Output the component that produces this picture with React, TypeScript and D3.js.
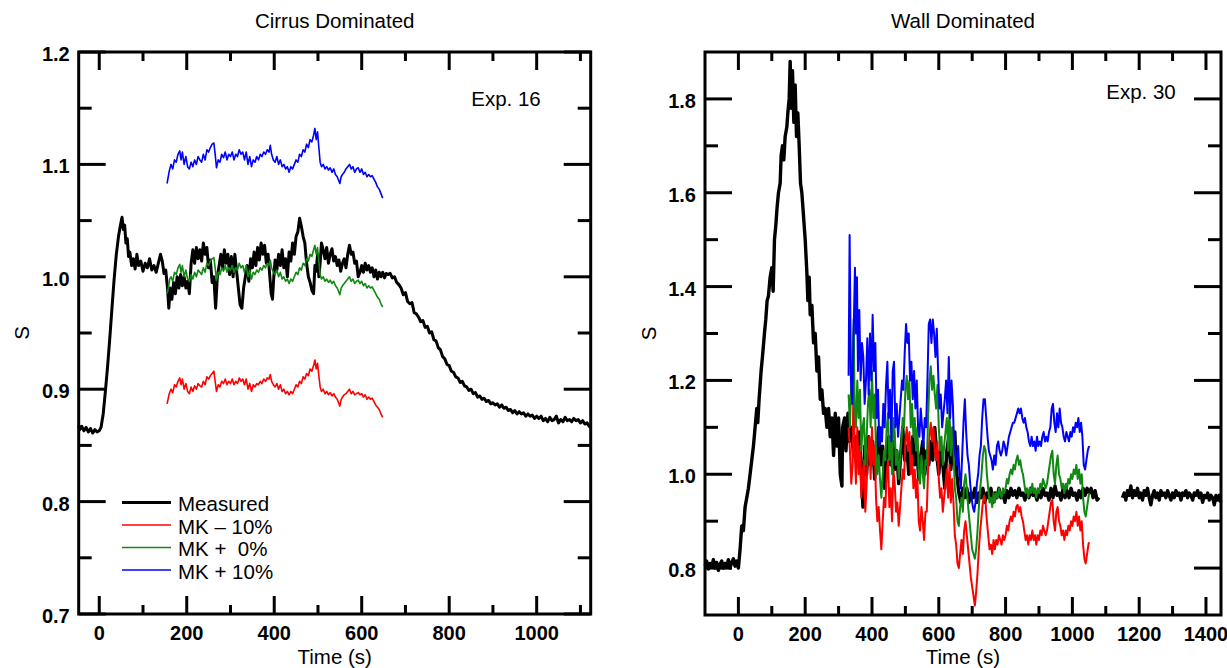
import React, { useEffect } from 'react';
import * as d3 from 'd3';

type Pt = [number, number];

// ---------------- Cirrus Dominated (Exp. 16) ----------------
const cirrusMeasured: Pt[] = [
  [-47, 0.868], [-45, 0.864], [-40, 0.867], [-35, 0.863], [-30, 0.866], [-25, 0.862], [-20, 0.865], [-15, 0.861], [-10, 0.864], [-5, 0.862], [0, 0.863],
  [4, 0.866], [9, 0.878], [14, 0.898], [19, 0.92], [24, 0.945], [29, 0.972], [34, 0.998], [39, 1.02], [44, 1.036], [48, 1.045], [52, 1.053], [55, 1.042],
  [58, 1.046], [61, 1.03], [64, 1.034], [67, 1.018], [70, 1.022], [74, 1.01], [78, 1.016], [82, 1.007], [86, 1.02], [90, 1.01], [95, 1.014], [100, 1.005],
  [105, 1.012], [110, 1.008], [115, 1.016], [120, 1.006], [125, 1.01], [130, 1.004], [135, 1.012], [140, 1.02], [144, 1.014], [148, 1.003], [152, 1.006],
  [156, 0.99], [159, 0.972], [162, 0.99], [166, 0.98], [170, 0.995], [174, 0.985], [178, 1.0], [182, 0.99], [186, 1.002], [190, 0.992], [194, 1.0],
  [198, 0.99], [202, 0.996], [206, 0.985], [210, 1.012], [214, 1.024], [218, 1.012], [222, 1.026], [226, 1.016], [230, 1.024], [234, 1.014], [238, 1.03],
  [242, 1.02], [246, 1.026], [250, 1.008], [254, 1.015], [258, 0.995], [262, 1.0], [266, 0.972], [270, 1.0], [274, 1.01], [278, 1.02], [282, 1.008],
  [286, 1.024], [290, 1.012], [294, 1.02], [298, 1.002], [302, 1.018], [306, 1.0], [310, 1.02], [314, 1.005], [318, 0.99], [322, 0.975], [326, 0.972],
  [330, 0.99], [334, 1.0], [338, 1.01], [342, 0.996], [346, 1.016], [350, 1.008], [354, 1.022], [358, 1.01], [362, 1.026], [366, 1.015], [370, 1.03],
  [374, 1.02], [378, 1.028], [382, 1.012], [386, 1.02], [390, 1.0], [393, 0.985], [396, 0.98], [399, 1.0], [402, 1.015], [406, 1.006], [410, 1.02],
  [414, 1.01], [418, 1.024], [422, 1.008], [426, 1.016], [430, 1.0], [434, 1.022], [438, 1.014], [442, 1.03], [446, 1.02], [450, 1.036], [454, 1.04],
  [458, 1.052], [462, 1.045], [466, 1.036], [470, 1.03], [474, 1.012], [478, 1.0], [482, 0.995], [486, 0.988], [490, 0.985], [493, 1.01], [496, 1.005],
  [499, 1.02], [502, 1.0], [505, 1.012], [508, 1.03], [512, 1.024], [516, 1.016], [520, 1.026], [524, 1.012], [528, 1.02], [532, 1.025], [536, 1.014],
  [540, 1.018], [544, 1.01], [548, 1.015], [552, 1.005], [556, 1.012], [560, 1.016], [564, 1.008], [568, 1.02], [572, 1.028], [576, 1.02], [580, 1.022],
  [584, 1.012], [588, 1.014], [592, 1.0], [596, 1.004], [600, 1.01], [604, 1.004], [608, 1.012], [612, 1.006], [616, 1.01], [620, 1.004], [624, 1.008],
  [628, 1.0], [632, 1.006], [636, 0.998], [640, 1.004], [644, 1.0], [648, 1.004], [652, 0.999], [656, 1.003], [660, 1.002], [665, 1.003], [670, 0.999],
  [675, 1.0], [680, 0.995], [685, 0.993], [690, 0.99], [695, 0.984], [700, 0.986], [705, 0.978], [710, 0.976], [715, 0.977], [720, 0.968], [725, 0.967],
  [730, 0.964], [735, 0.96], [740, 0.961], [745, 0.955], [750, 0.956], [755, 0.95], [760, 0.951], [765, 0.944], [770, 0.943], [775, 0.937], [780, 0.935],
  [785, 0.929], [790, 0.927], [795, 0.922], [800, 0.921], [805, 0.916], [810, 0.915], [815, 0.911], [820, 0.91], [825, 0.906], [830, 0.907], [835, 0.903],
  [840, 0.902], [845, 0.899], [850, 0.9], [855, 0.896], [860, 0.897], [865, 0.893], [870, 0.894], [875, 0.891], [880, 0.892], [885, 0.889], [890, 0.89],
  [895, 0.887], [900, 0.888], [905, 0.886], [910, 0.887], [915, 0.884], [920, 0.886], [925, 0.883], [930, 0.884], [935, 0.881], [940, 0.882], [945, 0.879],
  [950, 0.881], [955, 0.878], [960, 0.88], [965, 0.878], [970, 0.879], [975, 0.876], [980, 0.878], [985, 0.876], [990, 0.877], [995, 0.874], [1000, 0.876],
  [1005, 0.874], [1010, 0.876], [1015, 0.872], [1020, 0.874], [1025, 0.871], [1030, 0.875], [1035, 0.872], [1040, 0.873], [1045, 0.876], [1050, 0.87],
  [1055, 0.873], [1060, 0.871], [1065, 0.875], [1070, 0.872], [1075, 0.873], [1080, 0.871], [1085, 0.874], [1090, 0.872], [1095, 0.873], [1100, 0.87],
  [1105, 0.872], [1110, 0.869], [1115, 0.87], [1120, 0.867], [1123, 0.866],
];

const cirrusMK0: Pt[] = [
  [155, 0.985], [158, 0.99], [161, 0.998], [164, 1.0], [168, 0.996], [172, 1.004], [176, 1.002], [180, 1.008], [184, 1.011], [187, 1.004], [190, 1.01],
  [194, 1.0], [198, 1.006], [202, 0.998], [206, 0.996], [210, 1.002], [214, 0.998], [218, 1.004], [222, 1.0], [226, 1.006], [230, 1.004], [234, 1.002],
  [238, 1.008], [242, 1.004], [246, 1.012], [250, 1.01], [254, 1.014], [258, 1.016], [262, 1.017], [265, 1.008], [268, 0.997], [272, 1.004], [276, 1.002],
  [280, 1.008], [284, 1.005], [288, 1.01], [292, 1.004], [296, 1.008], [300, 1.006], [304, 1.01], [308, 1.004], [312, 1.008], [316, 1.006], [320, 1.012],
  [324, 1.008], [328, 1.01], [332, 1.004], [336, 1.01], [340, 1.0], [344, 1.006], [348, 0.998], [352, 1.004], [356, 1.002], [360, 1.006], [364, 1.004],
  [368, 1.008], [372, 1.006], [376, 1.01], [380, 1.008], [384, 1.012], [388, 1.01], [391, 1.015], [394, 1.008], [398, 1.004], [402, 1.002], [406, 1.006],
  [410, 1.0], [414, 1.004], [418, 0.998], [422, 1.0], [426, 0.996], [430, 0.998], [434, 0.994], [438, 0.998], [442, 0.996], [446, 1.0], [450, 1.004],
  [454, 1.002], [458, 1.008], [462, 1.006], [466, 1.012], [470, 1.01], [474, 1.016], [478, 1.014], [482, 1.02], [486, 1.018], [490, 1.024], [493, 1.028],
  [496, 1.02], [499, 1.026], [502, 1.014], [505, 1.002], [508, 0.998], [512, 1.0], [516, 0.996], [520, 0.998], [524, 0.995], [528, 0.997], [532, 0.994],
  [536, 0.996], [540, 0.992], [544, 0.99], [548, 0.986], [550, 0.984], [553, 0.99], [556, 0.992], [560, 0.994], [564, 0.996], [568, 0.998], [572, 1.0],
  [576, 0.996], [580, 0.998], [584, 0.994], [588, 0.996], [592, 0.997], [596, 0.994], [600, 0.996], [604, 0.992], [608, 0.994], [612, 0.99], [616, 0.992],
  [620, 0.99], [624, 0.991], [628, 0.988], [632, 0.985], [636, 0.982], [640, 0.98], [644, 0.976], [648, 0.973],
];

const cirrusMKminus10: Pt[] = [
  [155, 0.887], [160, 0.896], [164, 0.9], [168, 0.897], [172, 0.904], [176, 0.902], [180, 0.907], [184, 0.91], [187, 0.904], [190, 0.909], [194, 0.9],
  [198, 0.905], [202, 0.898], [206, 0.896], [210, 0.902], [214, 0.898], [218, 0.903], [222, 0.9], [226, 0.905], [230, 0.903], [234, 0.902], [238, 0.907],
  [242, 0.904], [246, 0.911], [250, 0.909], [254, 0.912], [258, 0.914], [262, 0.916], [265, 0.907], [268, 0.898], [272, 0.904], [276, 0.902], [280, 0.907],
  [284, 0.905], [288, 0.909], [292, 0.904], [296, 0.907], [300, 0.905], [304, 0.909], [308, 0.904], [312, 0.907], [316, 0.905], [320, 0.91], [324, 0.907],
  [328, 0.909], [332, 0.904], [336, 0.909], [340, 0.9], [344, 0.905], [348, 0.898], [352, 0.904], [356, 0.902], [360, 0.905], [364, 0.904], [368, 0.907],
  [372, 0.905], [376, 0.909], [380, 0.907], [384, 0.91], [388, 0.909], [391, 0.913], [394, 0.907], [398, 0.904], [402, 0.902], [406, 0.905], [410, 0.9],
  [414, 0.904], [418, 0.898], [422, 0.9], [426, 0.896], [430, 0.898], [434, 0.895], [438, 0.898], [442, 0.896], [446, 0.9], [450, 0.904], [454, 0.902],
  [458, 0.907], [462, 0.905], [466, 0.911], [470, 0.909], [474, 0.914], [478, 0.912], [482, 0.918], [486, 0.916], [490, 0.921], [493, 0.926], [496, 0.918],
  [499, 0.923], [502, 0.912], [505, 0.902], [508, 0.898], [512, 0.9], [516, 0.896], [520, 0.898], [524, 0.895], [528, 0.897], [532, 0.894], [536, 0.896],
  [540, 0.893], [544, 0.891], [548, 0.887], [550, 0.885], [553, 0.891], [556, 0.893], [560, 0.895], [564, 0.896], [568, 0.898], [572, 0.9], [576, 0.896],
  [580, 0.898], [584, 0.895], [588, 0.896], [592, 0.897], [596, 0.895], [600, 0.896], [604, 0.893], [608, 0.895], [612, 0.891], [616, 0.893], [620, 0.891],
  [624, 0.892], [628, 0.889], [632, 0.886], [636, 0.884], [640, 0.882], [644, 0.878], [648, 0.875],
];

const cirrusMKplus10: Pt[] = [
  [155, 1.083], [160, 1.094], [164, 1.1], [168, 1.096], [172, 1.104], [176, 1.102], [180, 1.109], [184, 1.112], [187, 1.104], [190, 1.111], [194, 1.1],
  [198, 1.107], [202, 1.098], [206, 1.096], [210, 1.102], [214, 1.098], [218, 1.104], [222, 1.1], [226, 1.107], [230, 1.104], [234, 1.102], [238, 1.109],
  [242, 1.104], [246, 1.113], [250, 1.111], [254, 1.115], [258, 1.118], [262, 1.119], [265, 1.109], [268, 1.097], [272, 1.104], [276, 1.102], [280, 1.109],
  [284, 1.106], [288, 1.111], [292, 1.104], [296, 1.109], [300, 1.107], [304, 1.111], [308, 1.104], [312, 1.109], [316, 1.107], [320, 1.113], [324, 1.109],
  [328, 1.111], [332, 1.104], [336, 1.111], [340, 1.1], [344, 1.107], [348, 1.098], [352, 1.104], [356, 1.102], [360, 1.107], [364, 1.104], [368, 1.109],
  [372, 1.107], [376, 1.111], [380, 1.109], [384, 1.113], [388, 1.111], [391, 1.117], [394, 1.109], [398, 1.104], [402, 1.102], [406, 1.107], [410, 1.1],
  [414, 1.104], [418, 1.098], [422, 1.1], [426, 1.096], [430, 1.098], [434, 1.093], [438, 1.098], [442, 1.096], [446, 1.1], [450, 1.104], [454, 1.102],
  [458, 1.109], [462, 1.107], [466, 1.113], [470, 1.111], [474, 1.118], [478, 1.115], [482, 1.122], [486, 1.12], [490, 1.126], [493, 1.132], [496, 1.122],
  [499, 1.129], [502, 1.115], [505, 1.102], [508, 1.098], [512, 1.1], [516, 1.096], [520, 1.098], [524, 1.095], [528, 1.097], [532, 1.093], [536, 1.096],
  [540, 1.091], [544, 1.089], [548, 1.085], [550, 1.083], [553, 1.089], [556, 1.091], [560, 1.093], [564, 1.096], [568, 1.098], [572, 1.1], [576, 1.096],
  [580, 1.098], [584, 1.093], [588, 1.096], [592, 1.097], [596, 1.093], [600, 1.096], [604, 1.091], [608, 1.093], [612, 1.089], [616, 1.091], [620, 1.089],
  [624, 1.09], [628, 1.087], [632, 1.084], [636, 1.08], [640, 1.078], [644, 1.074], [648, 1.07],
];

// ---------------- Wall Dominated (Exp. 30) ----------------
const wallMeasuredA: Pt[] = [
  [-100, 0.805], [-95, 0.815], [-90, 0.798], [-85, 0.81], [-80, 0.802], [-75, 0.818], [-70, 0.8], [-65, 0.812], [-60, 0.795], [-55, 0.808], [-50, 0.815],
  [-45, 0.8], [-40, 0.81], [-35, 0.805], [-30, 0.818], [-25, 0.8], [-20, 0.812], [-15, 0.82], [-10, 0.804], [-5, 0.815], [0, 0.8], [5, 0.84], [10, 0.89],
  [15, 0.88], [20, 0.93], [25, 0.95], [30, 0.97], [35, 1.0], [40, 1.03], [45, 1.06], [50, 1.1], [55, 1.14], [58, 1.11], [62, 1.16], [68, 1.22], [72, 1.25],
  [78, 1.3], [82, 1.33], [86, 1.37], [90, 1.38], [95, 1.42], [100, 1.44], [104, 1.39], [108, 1.5], [112, 1.53], [116, 1.57], [120, 1.6], [125, 1.62],
  [128, 1.68], [132, 1.7], [136, 1.67], [140, 1.72], [145, 1.74], [148, 1.77], [152, 1.8], [155, 1.88], [158, 1.78], [162, 1.86], [166, 1.75], [170, 1.83],
  [174, 1.72], [178, 1.77], [182, 1.7], [186, 1.62], [190, 1.6], [195, 1.55], [200, 1.5], [205, 1.43], [208, 1.37], [212, 1.42], [215, 1.34], [220, 1.36],
  [225, 1.28], [230, 1.3], [235, 1.22], [240, 1.25], [245, 1.16], [250, 1.18], [255, 1.13], [260, 1.14], [265, 1.1], [270, 1.14], [275, 1.08], [280, 1.12],
  [285, 1.04], [290, 1.13], [295, 1.06], [300, 1.12], [305, 1.0], [310, 0.975], [312, 1.1], [318, 1.12], [322, 1.05], [328, 1.13], [332, 1.07], [338, 1.1],
  [345, 1.04], [350, 1.08], [356, 1.02], [362, 1.09], [368, 1.0], [373, 0.93], [378, 1.06], [384, 1.0], [390, 1.08], [396, 1.02], [402, 1.07], [408, 0.99],
  [414, 1.05], [420, 1.1], [426, 1.02], [432, 1.06], [438, 0.97], [444, 1.04], [450, 1.08], [456, 1.02], [462, 1.07], [468, 1.01], [474, 1.05], [480, 0.98],
  [486, 1.04], [492, 1.1], [498, 1.03], [504, 1.06], [510, 1.0], [516, 1.05], [522, 1.08], [528, 1.02], [534, 1.06], [540, 0.99], [546, 1.04], [552, 1.07],
  [558, 1.0], [564, 1.05], [570, 1.02], [576, 1.07], [582, 1.03], [588, 1.1], [594, 1.04], [600, 1.0], [606, 1.06], [612, 1.02], [618, 0.97], [624, 1.05],
  [630, 1.08], [636, 1.01], [642, 1.06], [648, 1.09], [654, 1.0], [660, 0.96], [666, 0.94], [672, 0.97], [678, 0.95], [684, 0.97], [690, 0.94], [696, 0.96],
  [702, 0.95], [708, 0.97], [714, 0.94], [720, 0.96], [726, 0.95], [732, 0.97], [738, 0.94], [744, 0.96], [750, 0.95], [756, 0.97], [762, 0.94], [768, 0.96],
  [774, 0.95], [780, 0.97], [786, 0.95], [792, 0.96], [798, 0.94], [804, 0.965], [810, 0.95], [816, 0.97], [822, 0.955], [828, 0.965], [834, 0.95],
  [840, 0.97], [846, 0.955], [852, 0.96], [858, 0.945], [864, 0.965], [870, 0.95], [876, 0.97], [882, 0.955], [888, 0.96], [894, 0.945], [900, 0.965],
  [906, 0.95], [912, 0.97], [918, 0.955], [924, 0.96], [930, 0.945], [936, 0.97], [942, 0.95], [948, 0.975], [954, 0.955], [960, 0.96], [966, 0.945],
  [972, 0.97], [978, 0.95], [984, 0.965], [990, 0.95], [996, 0.97], [1002, 0.955], [1008, 0.96], [1014, 0.945], [1020, 0.965], [1026, 0.95], [1032, 0.97],
  [1038, 0.955], [1044, 0.97], [1050, 0.96], [1056, 0.97], [1062, 0.95], [1068, 0.965], [1074, 0.945], [1080, 0.95],
];

const wallMeasuredB: Pt[] = [
  [1150, 0.95], [1155, 0.96], [1160, 0.945], [1165, 0.965], [1170, 0.955], [1175, 0.975], [1180, 0.95], [1185, 0.965], [1190, 0.955], [1195, 0.97],
  [1200, 0.95], [1205, 0.96], [1210, 0.945], [1215, 0.965], [1220, 0.955], [1225, 0.97], [1230, 0.95], [1235, 0.935], [1240, 0.955], [1245, 0.965],
  [1250, 0.95], [1255, 0.96], [1260, 0.945], [1265, 0.965], [1270, 0.955], [1275, 0.96], [1280, 0.95], [1285, 0.965], [1290, 0.955], [1295, 0.945],
  [1300, 0.96], [1305, 0.95], [1310, 0.965], [1315, 0.955], [1320, 0.96], [1325, 0.945], [1330, 0.96], [1335, 0.955], [1340, 0.965], [1345, 0.95],
  [1350, 0.96], [1355, 0.955], [1360, 0.945], [1365, 0.96], [1370, 0.955], [1375, 0.965], [1380, 0.95], [1385, 0.96], [1390, 0.94], [1395, 0.955],
  [1400, 0.95], [1405, 0.96], [1410, 0.945], [1415, 0.955], [1420, 0.95], [1425, 0.935], [1430, 0.955], [1435, 0.945], [1440, 0.955], [1444, 0.94],
];

const wallMKplus10: Pt[] = [
  [330, 1.21], [333, 1.51], [337, 1.2], [341, 1.15], [345, 1.3], [349, 1.44], [352, 1.3], [355, 1.42], [358, 1.22], [362, 1.35], [366, 1.2], [370, 1.28],
  [374, 1.25], [378, 1.15], [382, 1.2], [386, 1.29], [390, 1.17], [394, 1.3], [398, 1.2], [402, 1.34], [406, 1.22], [410, 1.28], [414, 1.12], [418, 1.18],
  [422, 1.06], [426, 1.1], [430, 1.07], [434, 1.15], [438, 1.1], [442, 1.19], [446, 1.24], [450, 1.12], [454, 1.18], [458, 1.07], [462, 1.22], [466, 1.24],
  [470, 1.1], [474, 1.15], [478, 1.08], [482, 1.12], [486, 1.16], [490, 1.2], [494, 1.18], [498, 1.26], [502, 1.32], [506, 1.28], [510, 1.3], [514, 1.2],
  [518, 1.24], [522, 1.16], [526, 1.22], [530, 1.14], [534, 1.2], [538, 1.1], [542, 1.08], [546, 1.14], [550, 1.1], [554, 1.06], [558, 1.12], [562, 1.1],
  [566, 1.2], [570, 1.32], [574, 1.33], [578, 1.28], [582, 1.33], [586, 1.3], [590, 1.25], [594, 1.31], [598, 1.22], [602, 1.14], [606, 1.17], [610, 1.1],
  [614, 1.13], [618, 1.16], [622, 1.2], [626, 1.13], [630, 1.25], [634, 1.12], [638, 1.2], [642, 1.15], [646, 1.06], [650, 1.04], [654, 1.02], [658, 1.06],
  [662, 1.0], [666, 0.97], [670, 1.04], [674, 1.11], [678, 1.16], [682, 1.09], [686, 1.04], [690, 1.02], [694, 0.98], [698, 0.95], [702, 0.93], [706, 0.92],
  [710, 0.94], [714, 0.98], [718, 1.0], [722, 1.04], [726, 1.06], [730, 1.12], [734, 1.16], [738, 1.16], [742, 1.12], [746, 1.08], [750, 1.05], [754, 1.04],
  [758, 1.03], [762, 1.01], [766, 1.04], [770, 1.02], [774, 1.06], [778, 1.07], [782, 1.05], [786, 1.04], [790, 1.05], [794, 1.07], [798, 1.06], [802, 1.04],
  [806, 1.06], [810, 1.08], [814, 1.09], [818, 1.1], [822, 1.11], [826, 1.11], [830, 1.12], [834, 1.13], [838, 1.14], [842, 1.13], [846, 1.14], [850, 1.12],
  [854, 1.11], [858, 1.12], [862, 1.1], [866, 1.09], [870, 1.07], [874, 1.06], [878, 1.08], [882, 1.06], [886, 1.07], [890, 1.05], [894, 1.08], [898, 1.06],
  [902, 1.07], [906, 1.06], [910, 1.08], [914, 1.09], [918, 1.07], [922, 1.08], [926, 1.07], [930, 1.09], [934, 1.1], [938, 1.14], [942, 1.15], [946, 1.11],
  [950, 1.09], [954, 1.13], [958, 1.1], [962, 1.14], [966, 1.11], [970, 1.1], [974, 1.08], [978, 1.07], [982, 1.09], [986, 1.08], [990, 1.07], [994, 1.09],
  [998, 1.08], [1002, 1.1], [1006, 1.09], [1010, 1.11], [1014, 1.1], [1018, 1.12], [1022, 1.09], [1026, 1.11], [1030, 1.08], [1034, 1.02], [1038, 1.01],
  [1042, 1.03], [1046, 1.05], [1050, 1.06],
];

const wallMK0: Pt[] = [
  [330, 1.17], [334, 1.1], [338, 1.2], [342, 1.25], [345, 1.33], [348, 1.15], [352, 1.1], [356, 1.2], [360, 1.12], [364, 1.18], [368, 1.05], [372, 1.1],
  [376, 1.12], [380, 1.02], [384, 1.08], [388, 1.15], [392, 1.18], [396, 1.1], [400, 1.22], [404, 1.12], [408, 1.17], [412, 1.05], [416, 1.0], [420, 1.04],
  [424, 0.99], [428, 0.95], [432, 1.0], [436, 1.05], [440, 1.03], [444, 1.1], [448, 1.13], [452, 1.03], [456, 1.08], [460, 1.0], [464, 1.12], [468, 1.09],
  [472, 1.02], [476, 1.05], [480, 0.99], [484, 1.03], [488, 1.07], [492, 1.12], [496, 1.1], [500, 1.18], [504, 1.21], [508, 1.16], [512, 1.2], [516, 1.1],
  [520, 1.15], [524, 1.08], [528, 1.12], [532, 1.05], [536, 1.1], [540, 1.0], [544, 0.98], [548, 1.04], [552, 1.0], [556, 0.97], [560, 1.03], [564, 1.02],
  [568, 1.12], [572, 1.2], [576, 1.23], [580, 1.18], [584, 1.21], [588, 1.17], [592, 1.14], [596, 1.19], [600, 1.1], [604, 1.05], [608, 1.08], [612, 1.02],
  [616, 1.06], [620, 1.09], [624, 1.12], [628, 1.05], [632, 1.14], [636, 1.04], [640, 1.1], [644, 1.05], [648, 0.97], [652, 0.95], [656, 0.9], [660, 0.89],
  [664, 0.93], [668, 0.95], [672, 0.92], [676, 0.98], [680, 1.0], [684, 0.97], [688, 0.93], [692, 0.9], [696, 0.87], [700, 0.84], [704, 0.83], [708, 0.82],
  [712, 0.84], [716, 0.88], [720, 0.93], [724, 0.97], [728, 1.0], [732, 1.04], [736, 1.06], [740, 1.05], [744, 1.0], [748, 0.97], [752, 0.94], [756, 0.95],
  [760, 0.93], [764, 0.96], [768, 0.94], [772, 0.96], [776, 0.95], [780, 0.97], [784, 0.96], [788, 0.95], [792, 0.97], [796, 0.96], [800, 0.97], [804, 0.99],
  [808, 0.98], [812, 1.0], [816, 1.01], [820, 1.0], [824, 1.02], [828, 1.01], [832, 1.03], [836, 1.04], [840, 1.02], [844, 1.03], [848, 1.01], [852, 1.0],
  [856, 0.98], [860, 0.96], [864, 0.97], [868, 0.95], [872, 0.97], [876, 0.96], [880, 0.98], [884, 0.96], [888, 0.97], [892, 0.95], [896, 0.97], [900, 0.96],
  [904, 0.98], [908, 0.97], [912, 0.99], [916, 0.98], [920, 0.97], [924, 0.98], [928, 1.0], [932, 1.02], [936, 1.04], [940, 1.05], [944, 1.0], [948, 0.98],
  [952, 1.02], [956, 1.04], [960, 1.0], [964, 0.99], [968, 0.97], [972, 0.98], [976, 0.96], [980, 0.98], [984, 0.97], [988, 0.99], [992, 0.98], [996, 1.0],
  [1000, 0.99], [1004, 1.01], [1008, 1.0], [1012, 1.02], [1016, 0.99], [1020, 1.01], [1024, 0.98], [1028, 1.0], [1032, 0.95], [1036, 0.92], [1040, 0.91],
  [1044, 0.93], [1048, 0.95], [1050, 0.96],
];

const wallMKminus10: Pt[] = [
  [330, 1.1], [334, 1.05], [338, 0.98], [342, 1.02], [345, 1.24], [348, 1.05], [352, 0.98], [356, 1.1], [360, 1.0], [364, 1.06], [368, 0.95], [372, 1.0],
  [376, 1.03], [380, 0.92], [384, 0.98], [388, 1.05], [392, 1.08], [396, 0.99], [400, 1.1], [404, 1.02], [408, 1.06], [412, 0.95], [416, 0.9], [420, 0.93],
  [424, 0.88], [428, 0.84], [432, 0.9], [436, 0.95], [440, 0.93], [444, 1.0], [448, 1.03], [452, 0.93], [456, 0.97], [460, 0.9], [464, 1.01], [468, 0.98],
  [472, 0.92], [476, 0.94], [480, 0.89], [484, 0.93], [488, 0.97], [492, 1.01], [496, 0.99], [500, 1.07], [504, 1.1], [508, 1.05], [512, 1.09], [516, 1.0],
  [520, 1.04], [524, 0.97], [528, 1.01], [532, 0.95], [536, 0.99], [540, 0.9], [544, 0.88], [548, 0.93], [552, 0.9], [556, 0.86], [560, 0.92], [564, 0.92],
  [568, 1.01], [572, 1.08], [576, 1.11], [580, 1.07], [584, 1.1], [588, 1.05], [592, 1.03], [596, 1.07], [600, 0.99], [604, 0.95], [608, 0.97], [612, 0.92],
  [616, 0.95], [620, 0.98], [624, 1.01], [628, 0.95], [632, 1.02], [636, 0.94], [640, 0.99], [644, 0.94], [648, 0.87], [652, 0.85], [656, 0.81], [660, 0.8],
  [664, 0.83], [668, 0.86], [672, 0.83], [676, 0.88], [680, 0.9], [684, 0.87], [688, 0.84], [692, 0.81], [696, 0.78], [700, 0.76], [704, 0.74], [708, 0.72],
  [712, 0.75], [716, 0.79], [720, 0.84], [724, 0.88], [728, 0.91], [732, 0.94], [736, 0.955], [740, 0.94], [744, 0.9], [748, 0.87], [752, 0.84], [756, 0.85],
  [760, 0.83], [764, 0.86], [768, 0.84], [772, 0.86], [776, 0.85], [780, 0.87], [784, 0.86], [788, 0.85], [792, 0.87], [796, 0.86], [800, 0.87], [804, 0.89],
  [808, 0.88], [812, 0.9], [816, 0.91], [820, 0.9], [824, 0.92], [828, 0.91], [832, 0.93], [836, 0.935], [840, 0.92], [844, 0.93], [848, 0.91], [852, 0.9],
  [856, 0.88], [860, 0.86], [864, 0.87], [868, 0.85], [872, 0.87], [876, 0.86], [880, 0.88], [884, 0.86], [888, 0.87], [892, 0.85], [896, 0.87], [900, 0.86],
  [904, 0.88], [908, 0.87], [912, 0.89], [916, 0.88], [920, 0.87], [924, 0.88], [928, 0.9], [932, 0.92], [936, 0.94], [940, 0.945], [944, 0.9], [948, 0.88],
  [952, 0.92], [956, 0.93], [960, 0.9], [964, 0.89], [968, 0.87], [972, 0.88], [976, 0.86], [980, 0.88], [984, 0.87], [988, 0.89], [992, 0.88], [996, 0.9],
  [1000, 0.89], [1004, 0.91], [1008, 0.9], [1012, 0.92], [1016, 0.89], [1020, 0.91], [1024, 0.88], [1028, 0.9], [1032, 0.85], [1036, 0.82], [1040, 0.81],
  [1044, 0.83], [1048, 0.85], [1050, 0.855],
];

// ---------------- Axes / labels ----------------
const cirrusXTicks = [0, 200, 400, 600, 800, 1000];
const cirrusXMinor = [100, 300, 500, 700, 900, 1100];
const cirrusYTicks = [0.7, 0.8, 0.9, 1.0, 1.1, 1.2];
const cirrusYMinor = [0.75, 0.85, 0.95, 1.05, 1.15];
const wallXTicks = [0, 200, 400, 600, 800, 1000, 1200, 1400];
const wallXMinor = [100, 300, 500, 700, 900, 1100, 1300];
const wallYTicks = [0.8, 1.0, 1.2, 1.4, 1.6, 1.8];
const wallYMinor = [0.9, 1.1, 1.3, 1.5, 1.7];
const legendLabels = ['Measured', 'MK \u2013 10%', 'MK +  0%', 'MK + 10%'];
const legendColors = ['#000000', '#ff0000', '#118811', '#0000ff'];

const FONT = "'Liberation Sans', Arial, Helvetica, sans-serif";
const GREEN = '#118811';

interface SeriesDef { data: Pt[]; color: string; width: number; }
interface PanelProps {
  x0: number; x1: number; y0: number; y1: number;
  xDomain: [number, number]; yDomain: [number, number];
  xTicks: number[]; xMinor: number[]; yTicks: number[]; yMinor: number[];
  title: string; exp: string; expX: number; expY: number;
  series: SeriesDef[];
  legend?: boolean;
}

function Panel(p: PanelProps) {
  const x = d3.scaleLinear().domain(p.xDomain).range([p.x0, p.x1]);
  const y = d3.scaleLinear().domain(p.yDomain).range([p.y1, p.y0]);
  const line = d3.line<Pt>().x(d => x(d[0])).y(d => y(d[1]));
  const cx = (p.x0 + p.x1) / 2;
  const cy = (p.y0 + p.y1) / 2;
  const XMAJ = 18, XMIN = 9, YMAJ = 27, YMIN = 13;
  const tickStroke = { stroke: '#000', strokeWidth: 3 };
  return (
    <g>
      <text x={cx} y={28} textAnchor="middle" fontFamily={FONT} fontSize={20.5}>{p.title}</text>
      {p.series.map((s, i) => (
        <path key={i} d={line(s.data) || ''} fill="none" stroke={s.color} strokeWidth={s.width} strokeLinejoin="round" />
      ))}
      {p.xTicks.map(t => (
        <g key={'xt' + t}>
          <line x1={x(t)} x2={x(t)} y1={p.y1} y2={p.y1 - XMAJ} {...tickStroke} />
          <line x1={x(t)} x2={x(t)} y1={p.y0} y2={p.y0 + XMAJ} {...tickStroke} />
          <text x={x(t)} y={p.y1 + 26} textAnchor="middle" fontFamily={FONT} fontWeight="bold" fontSize={20}>{t}</text>
        </g>
      ))}
      {p.xMinor.map(t => (
        <g key={'xm' + t}>
          <line x1={x(t)} x2={x(t)} y1={p.y1} y2={p.y1 - XMIN} {...tickStroke} />
          <line x1={x(t)} x2={x(t)} y1={p.y0} y2={p.y0 + XMIN} {...tickStroke} />
        </g>
      ))}
      {p.yTicks.map(v => (
        <g key={'yt' + v}>
          <line x1={p.x0} x2={p.x0 + YMAJ} y1={y(v)} y2={y(v)} {...tickStroke} />
          <line x1={p.x1} x2={p.x1 - YMAJ} y1={y(v)} y2={y(v)} {...tickStroke} />
          <text x={p.x0 - 9} y={y(v) + 9} textAnchor="end" fontFamily={FONT} fontWeight="bold" fontSize={20}>{d3.format('.1f')(v)}</text>
        </g>
      ))}
      {p.yMinor.map(v => (
        <g key={'ym' + v}>
          <line x1={p.x0} x2={p.x0 + YMIN} y1={y(v)} y2={y(v)} {...tickStroke} />
          <line x1={p.x1} x2={p.x1 - YMIN} y1={y(v)} y2={y(v)} {...tickStroke} />
        </g>
      ))}
      <rect x={p.x0} y={p.y0} width={p.x1 - p.x0} height={p.y1 - p.y0} fill="none" stroke="#000" strokeWidth={3} />
      <text x={cx} y={664} textAnchor="middle" fontFamily={FONT} fontSize={20.5}>Time (s)</text>
      <text transform={`translate(${p.x0 - 57},${cy}) rotate(-90)`} textAnchor="middle" dominantBaseline="central" fontFamily={FONT} fontSize={20.5}>S</text>
      <text x={p.expX} y={p.expY} textAnchor="middle" fontFamily={FONT} fontSize={20.5}>{p.exp}</text>
      {p.legend && legendLabels.map((lab, i) => (
        <g key={'lg' + i}>
          <line x1={122} x2={171} y1={502.5 + i * 22.5} y2={502.5 + i * 22.5} stroke={legendColors[i]} strokeWidth={i === 0 ? 3 : 1.6} />
          <text x={178} y={511 + i * 22.5} fontFamily={FONT} fontSize={20.5} style={{ whiteSpace: 'pre' }} xmlSpace="preserve">{lab}</text>
        </g>
      ))}
    </g>
  );
}

export default function App() {
  useEffect(() => {
    document.body.style.margin = '0';
  }, []);
  return (
    <svg width={1227} height={668} style={{ display: 'block', background: '#fff' }}>
      <Panel
        x0={78.7} x1={590.7} y0={52} y1={614}
        xDomain={[-47, 1123.5]} yDomain={[0.7, 1.2]}
        xTicks={cirrusXTicks} xMinor={cirrusXMinor} yTicks={cirrusYTicks} yMinor={cirrusYMinor}
        title="Cirrus Dominated" exp="Exp. 16" expX={506} expY={106}
        legend
        series={[
          { data: cirrusMeasured, color: '#000', width: 3 },
          { data: cirrusMKminus10, color: '#ff0000', width: 1.6 },
          { data: cirrusMK0, color: GREEN, width: 1.6 },
          { data: cirrusMKplus10, color: '#0000ff', width: 1.6 },
        ]}
      />
      <Panel
        x0={705} x1={1221} y0={52} y1={615}
        xDomain={[-100, 1445]} yDomain={[0.7, 1.9]}
        xTicks={wallXTicks} xMinor={wallXMinor} yTicks={wallYTicks} yMinor={wallYMinor}
        title="Wall Dominated" exp="Exp. 30" expX={1141} expY={99}
        series={[
          { data: wallMeasuredA, color: '#000', width: 3.4 },
          { data: wallMeasuredB, color: '#000', width: 3.4 },
          { data: wallMKminus10, color: '#ff0000', width: 2 },
          { data: wallMK0, color: GREEN, width: 2 },
          { data: wallMKplus10, color: '#0000ff', width: 2 },
        ]}
      />
    </svg>
  );
}
